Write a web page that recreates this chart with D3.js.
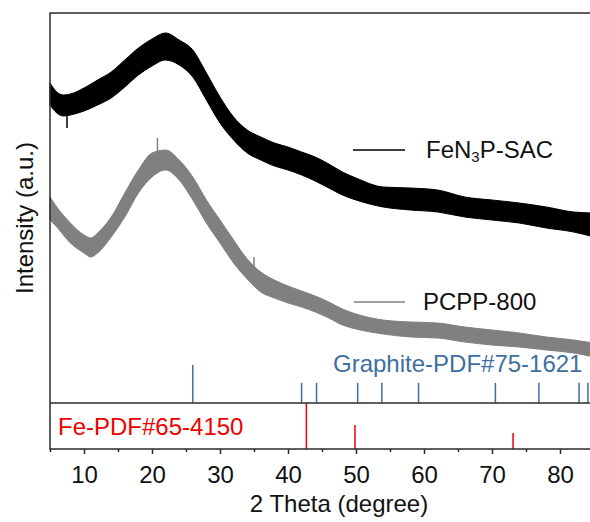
<!DOCTYPE html>
<html>
<head>
<meta charset="utf-8">
<script src="https://cdn.jsdelivr.net/npm/d3@7"></script>
<style>
  html, body { margin: 0; padding: 0; background: #fff; }
  svg { display: block; font-family: 'Liberation Sans', Arial, sans-serif; }
</style>
</head>
<body>
<div id="chart"></div>
<script>
const thetaSac = [5, 6, 7, 8, 10, 12, 14, 16, 18, 20, 22, 24, 26, 28, 30, 32,
    34, 36, 38, 40, 42, 44, 46, 48, 50, 54, 58, 62, 66, 70, 74, 78, 82, 85];
/* FeN3P-SAC noise band, upper and lower edge (a.u.) */
const sacHigh = [320, 311, 308, 309, 315, 323, 331, 343, 355, 364, 370, 363,
    353, 330, 306, 286, 273, 266, 260, 256, 251, 246, 239, 231, 225, 216, 215,
    213, 206, 203, 200, 196, 191, 190];
const sacLow = [298, 290, 287, 288, 292, 298, 305, 316, 328, 337, 343, 338,
    326, 303, 280, 263, 250, 243, 237, 233, 228, 222, 215, 208, 203, 196, 193,
    191, 186, 183, 180, 175, 171, 166];

const thetaPcpp = [5, 6, 8, 10, 11, 12, 14, 16, 18, 20, 22, 24, 26, 28, 30,
    32, 34, 36, 38, 40, 42, 44, 46, 48, 50, 54, 58, 62, 66, 70, 74, 78, 82, 85];
/* PCPP-800 noise band, upper and lower edge (a.u.) */
const pcppHigh = [206, 196, 180, 168, 165, 170, 186, 210, 233, 250, 253, 243,
    226, 203, 183, 163, 144, 131, 123, 117, 112, 107, 101, 94, 89, 83, 81, 80,
    76, 73, 70, 66, 63, 60];
const pcppLow = [183, 176, 160, 150, 146, 150, 166, 186, 210, 226, 233, 223,
    203, 180, 160, 140, 124, 111, 105, 100, 96, 91, 85, 78, 74, 69, 66, 65, 61,
    58, 56, 53, 50, 46];

/* Single counts that stick out of the bands */
const spikeTheta = [7.5, 20.8, 35.0];
const spikeFrom = [290, 250, 136];
const spikeTo = [275, 265, 146];
const spikeColor = ['#000000', '#808080', '#808080'];

/* Reference patterns: peak positions and relative intensities */
const graphitePeaks = [26.0, 42.0, 44.2, 50.25, 53.8, 59.2, 70.5, 76.9, 82.8, 84.1];
const graphiteInt = [100, 53, 53, 53, 53, 53, 53, 53, 53, 53];
const fePeaks = [42.7, 49.85, 73.1];
const feInt = [100, 52, 35];

const xTicks = [10, 20, 30, 40, 50, 60, 70, 80];
const xMinorTicks = [5, 15, 25, 35, 45, 55, 65, 75, 85];

const svgWidth = 590;
const svgHeight = 522;
const plotLeft = 50;
const plotRight = 594;
const plotTop = 13;
const plotSplit = 403;
const plotBottom = 449;
const fontSize = 24;

let svg = d3.select('#chart')
    .append('svg')
    .attr('width', svgWidth)
    .attr('height', svgHeight);

let x = d3.scaleLinear().domain([5, 85]).range([plotLeft, plotRight]);
let y = d3.scaleLinear().domain([0, 390]).range([plotSplit, plotTop]);
let yGraphite = d3.scaleLinear().domain([0, 100]).range([plotSplit, 365]);
let yFe = d3.scaleLinear().domain([0, 100]).range([plotBottom, plotSplit]);

let plot = svg.append('g');

/* Noisy patterns drawn as their read envelope band */
function band(theta, high, low, color) {
  let rows = theta.map((t, i) => ({ t: t, hi: high[i], lo: low[i] }));
  let area = d3.area()
      .curve(d3.curveMonotoneX)
      .x(d => x(d.t))
      .y0(d => y(d.lo))
      .y1(d => y(d.hi));
  plot.append('path')
      .datum(rows)
      .attr('d', area)
      .attr('fill', color)
      .attr('stroke', color)
      .attr('stroke-width', 1);
}

band(thetaSac, sacHigh, sacLow, '#000000');
band(thetaPcpp, pcppHigh, pcppLow, '#808080');

plot.selectAll('.spike')
    .data(spikeTheta)
    .join('line')
    .attr('class', 'spike')
    .attr('x1', d => x(d))
    .attr('x2', d => x(d))
    .attr('y1', (d, i) => y(spikeFrom[i]))
    .attr('y2', (d, i) => y(spikeTo[i]))
    .attr('stroke', (d, i) => spikeColor[i])
    .attr('stroke-width', 1.5);

/* Graphite sticks */
plot.selectAll('.graphite')
    .data(graphitePeaks)
    .join('line')
    .attr('class', 'graphite')
    .attr('x1', d => x(d))
    .attr('x2', d => x(d))
    .attr('y1', yGraphite(0))
    .attr('y2', (d, i) => yGraphite(graphiteInt[i]))
    .attr('stroke', '#3e6f9f')
    .attr('stroke-width', 1.5);

/* Fe sticks */
plot.selectAll('.fe')
    .data(fePeaks)
    .join('line')
    .attr('class', 'fe')
    .attr('x1', d => x(d))
    .attr('x2', d => x(d))
    .attr('y1', yFe(0))
    .attr('y2', (d, i) => yFe(feInt[i]))
    .attr('stroke', '#ee0000')
    .attr('stroke-width', 1.5);

/* Frame and divider */
svg.append('rect')
    .attr('x', plotLeft)
    .attr('y', plotTop)
    .attr('width', plotRight - plotLeft)
    .attr('height', plotBottom - plotTop)
    .attr('fill', 'none')
    .attr('stroke', '#2b2b2b')
    .attr('stroke-width', 1.5);

svg.append('line')
    .attr('x1', plotLeft)
    .attr('x2', plotRight)
    .attr('y1', plotSplit)
    .attr('y2', plotSplit)
    .attr('stroke', '#2b2b2b')
    .attr('stroke-width', 1.5);

/* Bottom axis */
let xAxis = svg.append('g')
    .attr('transform', `translate(0, ${plotBottom})`)
    .call(d3.axisBottom(x)
        .tickValues(xTicks)
        .tickSize(5)
        .tickSizeOuter(0)
        .tickPadding(12));
xAxis.select('.domain').remove();
xAxis.selectAll('.tick line')
    .attr('stroke', '#2b2b2b')
    .attr('stroke-width', 1.5);
xAxis.selectAll('.tick text')
    .attr('font-family', "'Liberation Sans', Arial, sans-serif")
    .attr('font-size', fontSize)
    .attr('fill', '#111');

let xMinor = svg.append('g')
    .attr('transform', `translate(0, ${plotBottom})`)
    .call(d3.axisBottom(x)
        .tickValues(xMinorTicks)
        .tickSize(3)
        .tickSizeOuter(0)
        .tickFormat(''));
xMinor.select('.domain').remove();
xMinor.selectAll('.tick line')
    .attr('stroke', '#2b2b2b')
    .attr('stroke-width', 1.5);

/* Axis titles */
svg.append('text')
    .attr('x', 339)
    .attr('y', 512)
    .attr('text-anchor', 'middle')
    .attr('font-size', fontSize)
    .attr('fill', '#111')
    .text('2 Theta (degree)');

svg.append('text')
    .attr('transform', `translate(33, 218) rotate(-90)`)
    .attr('text-anchor', 'middle')
    .attr('font-size', fontSize)
    .attr('fill', '#111')
    .text('Intensity (a.u.)');

/* Legend */
svg.append('line')
    .attr('x1', 353).attr('x2', 405)
    .attr('y1', 150).attr('y2', 150)
    .attr('stroke', '#000').attr('stroke-width', 1.5);
let sacLabel = svg.append('text')
    .attr('x', 426)
    .attr('y', 158)
    .attr('font-size', fontSize)
    .attr('fill', '#111');
sacLabel.append('tspan').text('FeN');
sacLabel.append('tspan').attr('font-size', 15).attr('dy', 4).text('3');
sacLabel.append('tspan').attr('dy', -4).text('P-SAC');

svg.append('line')
    .attr('x1', 354).attr('x2', 405)
    .attr('y1', 302).attr('y2', 302)
    .attr('stroke', '#808080').attr('stroke-width', 1.5);
svg.append('text')
    .attr('x', 423)
    .attr('y', 310)
    .attr('font-size', fontSize)
    .attr('fill', '#111')
    .text('PCPP-800');

/* Reference labels */
svg.append('text')
    .attr('x', 333)
    .attr('y', 372)
    .attr('font-size', fontSize)
    .attr('fill', '#3e6f9f')
    .text('Graphite-PDF#75-1621');

svg.append('text')
    .attr('x', 58)
    .attr('y', 435)
    .attr('font-size', fontSize)
    .attr('fill', '#ee0000')
    .text('Fe-PDF#65-4150');
</script>
</body>
</html>
